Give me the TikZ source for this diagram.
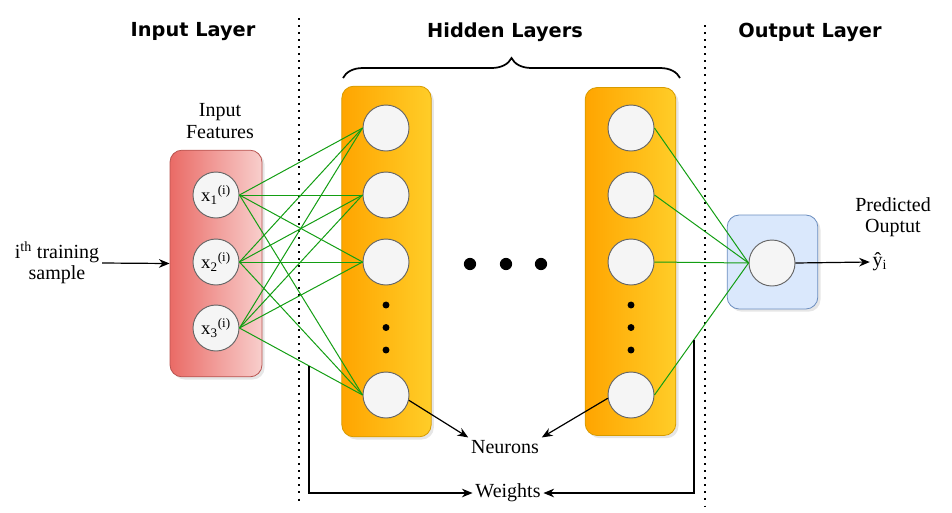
\documentclass[tikz,border=0pt]{standalone}
\usepackage{fontspec}
\setmainfont{Liberation Serif}
\newfontfamily\headfont{DejaVu Sans}
\usetikzlibrary{positioning, arrows.meta, decorations.pathreplacing, shadows}
\definecolor{inleft}{HTML}{EA6B66}
\definecolor{inright}{HTML}{F8CECC}
\definecolor{inborder}{HTML}{B85450}
\definecolor{hidleft}{HTML}{FFA500}
\definecolor{hidright}{HTML}{FFCD28}
\definecolor{hidborder}{HTML}{D79B00}
\definecolor{outfill}{HTML}{DAE8FC}
\definecolor{outborder}{HTML}{6C8EBF}
\definecolor{cellfill}{HTML}{F5F5F5}
\definecolor{cellborder}{HTML}{666666}
\definecolor{wgreen}{HTML}{139E13}
\tikzset{
	>={Stealth[length=8pt, width=6.5pt]},
	layerbox/.style={rounded corners=9pt, line width=0.6pt,
		drop shadow={opacity=0.2, shadow xshift=2pt, shadow yshift=-2pt}},
	neuron/.style={circle, draw=cellborder, fill=cellfill, line width=0.7pt,
		minimum size=34.5pt, inner sep=0pt, font=\fontsize{14}{16}\selectfont},
	weight/.style={draw=wgreen, line width=0.75pt},
	arrowline/.style={->, line width=0.9pt},
	heading/.style={font=\headfont\bfseries\fontsize{14.5}{17}\selectfont},
	lbl/.style={align=center, inner sep=2pt, font=\fontsize{15}{16}\selectfont},
	sep/.style={line width=1.5pt, dash pattern=on 1.5pt off 3.8pt}
}
\begin{document}
\begin{tikzpicture}[x=0.75pt, y=-0.75pt]
	\useasboundingbox (0,0) rectangle (952,512);
	% headings and separators
	\node[heading] (hin) at (193,32) {Input Layer};
	\node[heading] (hhid) at (505,32) {Hidden Layers};
	\node[heading] (hout) at (810,32) {Output Layer};
	\draw[sep] (299,18) -- (299,502);
	\draw[sep] (705,25) -- (705,506);
	\draw[decorate, decoration={brace, amplitude=15pt}, line width=1.3pt]
		(343,78) -- (680,78);
	% layer boxes
	\node[layerbox, draw=inborder, left color=inleft, right color=inright,
		minimum width=69pt, minimum height=170pt] (inbox) at (216,263.5) {};
	\node[layerbox, draw=hidborder, left color=hidleft, right color=hidright,
		minimum width=67pt, minimum height=263pt] (hid1) at (386.5,261.5) {};
	\node[layerbox, draw=hidborder, left color=hidleft, right color=hidright,
		minimum width=68pt, minimum height=261pt] (hid2) at (630.5,261.5) {};
	\node[layerbox, draw=outborder, fill=outfill,
		minimum width=68pt, minimum height=70.5pt] (outbox) at (772.5,262) {};
	% neurons
	\node[neuron] (x1) at (216,195) {x\textsubscript{1}\textsuperscript{(i)}};
	\node[neuron] (x2) at (216,262) {x\textsubscript{2}\textsuperscript{(i)}};
	\node[neuron] (x3) at (216,328) {x\textsubscript{3}\textsuperscript{(i)}};
	\foreach \n/\y in {1/128, 2/195, 3/262, 4/395} {
		\node[neuron] (a\n) at (386,\y) {};
		\node[neuron] (b\n) at (631,\y) {};
	}
	\node[neuron] (out) at (772,263) {};
	\foreach \y in {305, 327.5, 350} {
		\fill (386,\y) circle[radius=2.6pt];
		\fill (631,\y) circle[radius=2.6pt];
	}
	\foreach \x in {470, 506, 541}
		\fill (\x,264) circle[radius=4.6pt];
	% weights
	\foreach \i in {1,2,3}
		\foreach \j in {1,...,4}
			\draw[weight] (x\i.east) -- (a\j.west);
	\foreach \j in {1,...,4}
		\draw[weight] (b\j.east) -- (out.west);
	\path (x3.east) -- coordinate[pos=0.565] (wl) (a4.west);
	\path (b4.east) -- coordinate[pos=0.42] (wr) (out.west);
	% labels
	\node[lbl] (feat) at (220,121) {Input\\Features};
	\node[lbl] (sample) at (57,263) {i\textsuperscript{th} training\\sample};
	\node[lbl] (pred) at (893,217) {Predicted\\Ouptut};
	\node[lbl] (yhat) at (880,262) {\^{y}\textsubscript{i}};
	\node[lbl] (neurons) at (505,447) {Neurons};
	\node[lbl] (weights) at (508,493) {Weights};
	% arrows
	\draw[arrowline] (sample.east) -- (inbox.west);
	\draw[arrowline] (out.east) -- (yhat.west);
	\draw[arrowline] (a4.-13) -- (neurons.north west);
	\draw[arrowline] (b4.188) -- (neurons.north east);
	\draw[arrowline] (wl) |- (weights.west);
	\draw[arrowline] (wr) |- (weights.east);
\end{tikzpicture}
\end{document}
